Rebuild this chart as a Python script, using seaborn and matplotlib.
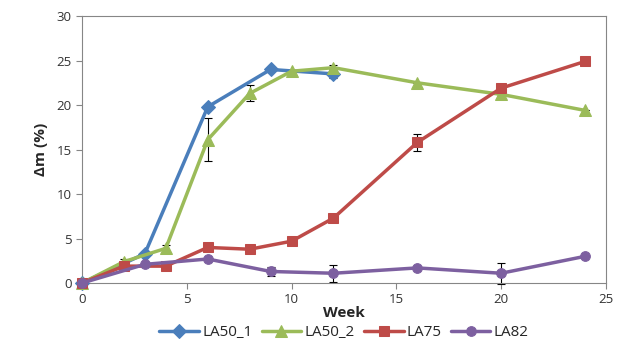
import matplotlib
matplotlib.use("Agg")
import matplotlib.pyplot as plt
import seaborn as sns
import pandas as pd
import numpy as np

sns.set_style("white")
plt.rcParams['font.family'] = ['Open Sans', 'DejaVu Sans']

# Data
weeks_la50_1 = [0, 3, 6, 9, 12]
la50_1 = [0, 3.3, 19.8, 24.0, 23.5]
err_la50_1 = [0, 0, 0, 0, 0.5]

weeks_la50_2 = [0, 2, 4, 6, 8, 10, 12, 16, 20, 24]
la50_2 = [0, 2.4, 3.9, 16.1, 21.3, 23.8, 24.2, 22.5, 21.2, 19.4]
err_la50_2 = [0, 0.3, 0.4, 2.4, 0.9, 0, 0.3, 0, 0, 0]

weeks_la75 = [0, 2, 4, 6, 8, 10, 12, 16, 20, 24]
la75 = [0, 1.9, 1.9, 4.0, 3.8, 4.7, 7.3, 15.8, 21.9, 24.9]
err_la75 = [0, 0, 0, 0, 0, 0, 0.3, 1.0, 0, 0]

weeks_la82 = [0, 3, 6, 9, 12, 16, 20, 24]
la82 = [0, 2.1, 2.7, 1.3, 1.1, 1.7, 1.1, 3.0]
err_la82 = [0, 0, 0, 0.55, 0.95, 0, 1.2, 0]

series = [
    ("LA50_1", weeks_la50_1, la50_1, err_la50_1, "#4A7EBB", "D", 7),
    ("LA50_2", weeks_la50_2, la50_2, err_la50_2, "#9BBB59", "^", 9),
    ("LA75", weeks_la75, la75, err_la75, "#BE4B48", "s", 7),
    ("LA82", weeks_la82, la82, err_la82, "#7D60A0", "o", 7),
]

fig = plt.figure(figsize=(6.23, 3.49), dpi=100)
ax = fig.add_axes([0.1316, 0.189, 0.841, 0.765])

for name, w, v, e, c, m, ms in series:
    ax.errorbar(w, v, yerr=e, fmt="none", ecolor="black", elinewidth=0.8,
                capsize=3, capthick=0.8, zorder=1)
for name, w, v, e, c, m, ms in series:
    df = pd.DataFrame({"Week": w, "val": v})
    sns.lineplot(data=df, x="Week", y="val", ax=ax, color=c, marker=m,
                 markersize=ms, markeredgecolor=c, linewidth=2.5, label=name,
                 zorder=3)

ax.set_xlim(0, 25)
ax.set_ylim(0, 30)
ax.set_xticks([0, 5, 10, 15, 20, 25])
ax.set_yticks([0, 5, 10, 15, 20, 25, 30])
ax.tick_params(axis="both", direction="out", length=4, width=0.8,
               color="#868686", labelsize=9.5, labelcolor="#333333",
               bottom=True, left=True)
for s in ax.spines.values():
    s.set_color("#868686")
    s.set_linewidth(0.8)
    s.set_visible(True)
ax.set_xlabel("Week", fontsize=11, fontweight="bold", labelpad=0)
ax.set_ylabel("Δm (%)", fontsize=11, fontweight="bold", labelpad=6)

handles, labels = ax.get_legend_handles_labels()
ax.legend(handles, labels, loc="center", bbox_to_anchor=(0.5, -0.187),
          ncol=4, frameon=False, fontsize=11, handlelength=2.6,
          columnspacing=0.6, handletextpad=0.2, borderaxespad=0,
          borderpad=0)

for line in ax.get_lines():
    line.set_clip_on(False)

fig.savefig("out.png", dpi=100)
